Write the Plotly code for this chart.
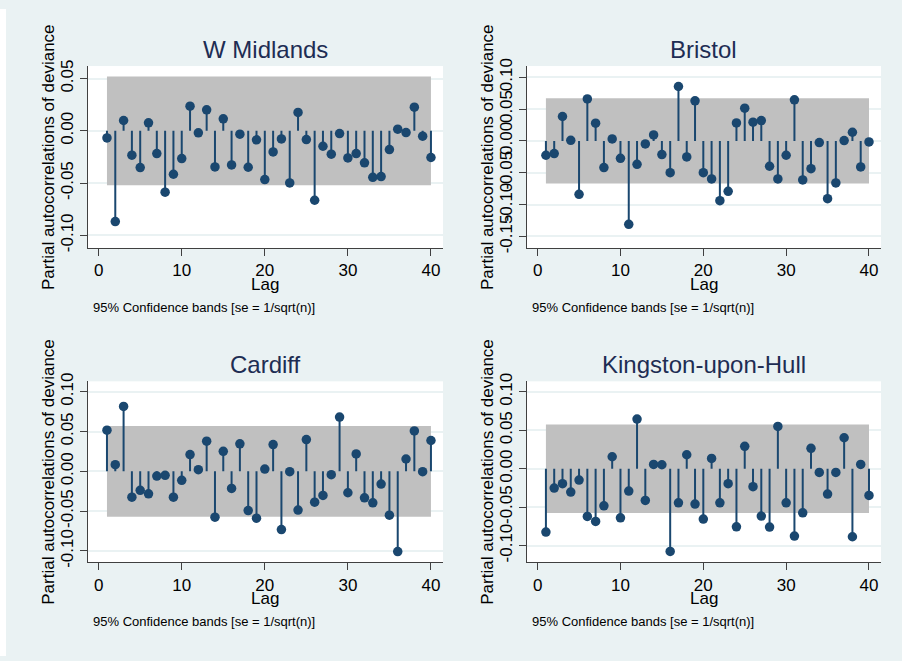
import plotly.graph_objects as go

# Partial autocorrelations of deviance residuals, lags 1..40, by area
lags = list(range(1, 41))

w_midlands = [-0.0067, -0.0868, 0.0099, -0.0233, -0.0351, 0.0077, -0.0217, -0.0587, -0.0415, -0.0265,
              0.0236, -0.0019, 0.0201, -0.0345, 0.0115, -0.0326, -0.0032, -0.0348, -0.0086, -0.0466,
              -0.0201, -0.0077, -0.0498, 0.0176, -0.0083, -0.0664, -0.0147, -0.0223, -0.0026, -0.0259,
              -0.0217, -0.0306, -0.0444, -0.0437, -0.0179, 0.0016, -0.0016, 0.0227, -0.0051, -0.0255]

bristol = [-0.0225, -0.0199, 0.0383, 0.0010, -0.0839, 0.0660, 0.0278, -0.0419, 0.0031, -0.0273,
           -0.1310, -0.0367, -0.0047, 0.0094, -0.0215, -0.0498, 0.0854, -0.0252, 0.0629, -0.0498,
           -0.0597, -0.0938, -0.0791, 0.0283, 0.0514, 0.0294, 0.0320, -0.0398, -0.0597, -0.0225,
           0.0645, -0.0613, -0.0435, -0.0026, -0.0907, -0.0660, 0.0005, 0.0136, -0.0409, -0.0016]

cardiff = [0.0517, 0.0084, 0.0815, -0.0324, -0.0239, -0.0282, -0.0059, -0.0050, -0.0324, -0.0113,
           0.0210, 0.0021, 0.0378, -0.0576, 0.0252, -0.0214, 0.0345, -0.0492, -0.0588, 0.0029,
           0.0336, -0.0731, -0.0004, -0.0487, 0.0399, -0.0387, -0.0303, -0.0042, 0.0681, -0.0269,
           0.0218, -0.0332, -0.0395, -0.0160, -0.0550, -0.1008, 0.0155, 0.0508, -0.0004, 0.0387]

hull = [-0.0824, -0.0252, -0.0195, -0.0304, -0.0148, -0.0620, -0.0685, -0.0482, 0.0156, -0.0638,
        -0.0291, 0.0646, -0.0412, 0.0056, 0.0052, -0.1076, -0.0443, 0.0182, -0.0460, -0.0655,
        0.0134, -0.0443, -0.0195, -0.0755, 0.0291, -0.0234, -0.0616, -0.0759, 0.0551, -0.0443,
        -0.0876, -0.0573, 0.0265, -0.0048, -0.0330, -0.0048, 0.0403, -0.0885, 0.0056, -0.0347]

# 95% confidence band half-widths (1.96 * 1/sqrt(n))
band_half = [0.052, 0.067, 0.057, 0.0575]

titles = ["W Midlands", "Bristol", "Cardiff", "Kingston-upon-Hull"]
series = [w_midlands, bristol, cardiff, hull]

y_ticks = [
    [-0.10, -0.05, 0.00, 0.05],
    [-0.15, -0.10, -0.05, 0.00, 0.05, 0.10],
    [-0.10, -0.05, 0.00, 0.05, 0.10],
    [-0.10, -0.05, 0.00, 0.05, 0.10],
]
y_ranges = [[-0.112, 0.062], [-0.168, 0.1175], [-0.114, 0.113], [-0.1215, 0.1137]]
x_ticks = [0, 10, 20, 30, 40]
x_range = [-1.32, 41.45]

W, H = 902, 661
BG = "#EAF2F3"
NAVY = "#1A476F"
TITLE_C = "#1E2D53"
FONT = "Liberation Sans, Arial, sans-serif"

# panel boxes in pixels: (left, right, top, bottom)
boxes = [(87.7, 443.0, 58.3, 244.1), (526.7, 881.0, 58.3, 244.1),
         (87.7, 443.0, 380.4, 565.1), (526.7, 881.0, 380.4, 565.1)]

fig = go.Figure()
layout = dict(
    width=W, height=H, margin=dict(l=0, r=0, t=0, b=0),
    paper_bgcolor=BG, plot_bgcolor="white", showlegend=False,
    font=dict(family=FONT, size=17, color="#000000"),
)
annotations = []

for i, (vals, title, b) in enumerate(zip(series, titles, band_half)):
    n = "" if i == 0 else str(i + 1)
    xa, ya = "x" + n, "y" + n
    left, right, top, bottom = boxes[i]

    # confidence band
    fig.add_trace(go.Scatter(
        x=lags + lags[::-1], y=[b] * len(lags) + [-b] * len(lags),
        fill="toself", fillcolor="#C0C0C0", line=dict(width=0),
        mode="lines", hoverinfo="skip", xaxis=xa, yaxis=ya))

    # stems from zero to each value
    sx, sy = [], []
    for lag, v in zip(lags, vals):
        sx += [lag, lag, None]
        sy += [0, v, None]
    fig.add_trace(go.Scatter(x=sx, y=sy, mode="lines",
                             line=dict(color=NAVY, width=2),
                             hoverinfo="skip", xaxis=xa, yaxis=ya))

    # markers
    fig.add_trace(go.Scatter(x=lags, y=vals, mode="markers",
                             marker=dict(color=NAVY, size=9.5, line=dict(width=0)),
                             xaxis=xa, yaxis=ya))

    xdom = [left / W, right / W]
    ydom = [1 - bottom / H, 1 - top / H]
    axis_common = dict(showline=True, linecolor="#404040", linewidth=1.3,
                       ticks="outside", ticklen=7, tickwidth=1.3, tickcolor="#404040",
                       zeroline=False, mirror=False,
                       tickfont=dict(family=FONT, size=17, color="#000000"))
    layout["xaxis" + n] = dict(
        domain=xdom, range=x_range, anchor=ya,
        tickvals=x_ticks, ticktext=[str(t) for t in x_ticks],
        showgrid=False, **axis_common)
    layout["yaxis" + n] = dict(
        domain=ydom, range=y_ranges[i], anchor=xa,
        tickvals=y_ticks[i], ticktext=["%.2f" % t for t in y_ticks[i]],
        tickangle=-90, showgrid=True, gridcolor=BG, gridwidth=1.5,
        **axis_common)

    cx = (left + right) / 2
    cy = (top + bottom) / 2
    annotations += [
        dict(text=title, x=cx / W, y=1 - (top - 17.0) / H, xref="paper", yref="paper",
             xanchor="center", yanchor="middle", showarrow=False,
             font=dict(family=FONT, size=24, color=TITLE_C)),
        dict(text="Partial autocorrelations of deviance", x=(left - 38.7) / W, y=1 - cy / H,
             xref="paper", yref="paper", xanchor="center", yanchor="middle",
             textangle=-90, showarrow=False,
             font=dict(family=FONT, size=17, color="#000000")),
        dict(text="Lag", x=cx / W, y=1 - (bottom + 37.0) / H, xref="paper", yref="paper",
             xanchor="center", yanchor="middle", showarrow=False,
             font=dict(family=FONT, size=17, color="#000000")),
        dict(text="95% Confidence bands [se = 1/sqrt(n)]", x=(left + 3.0) / W,
             y=1 - (bottom + 61.0) / H, xref="paper", yref="paper",
             xanchor="left", yanchor="middle", showarrow=False,
             font=dict(family=FONT, size=13, color="#000000")),
    ]

# thin white strip along the left edge of the page
layout["shapes"] = [
    dict(type="rect", xref="paper", yref="paper", x0=0, x1=6 / W, y0=0, y1=1,
         fillcolor="white", line=dict(width=0), layer="above"),
]
layout["annotations"] = annotations
fig.update_layout(**layout)
fig.write_html("out.html")
